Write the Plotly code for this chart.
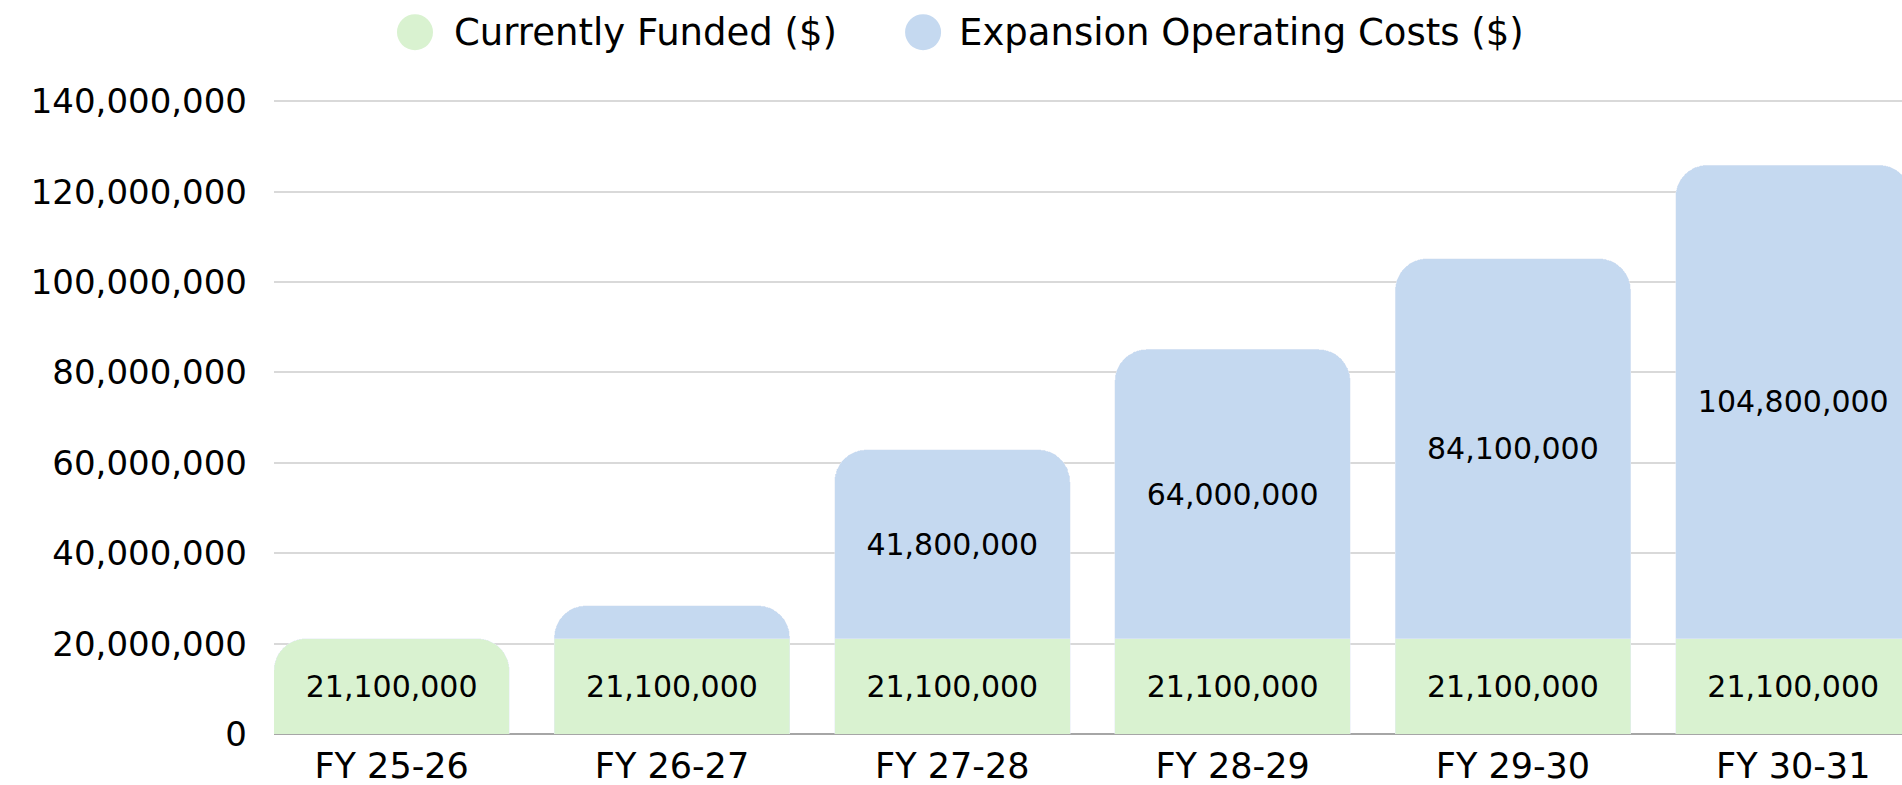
import plotly.graph_objects as go

categories = ["FY 25-26", "FY 26-27", "FY 27-28", "FY 28-29", "FY 29-30", "FY 30-31"]
funded = [21_100_000, 21_100_000, 21_100_000, 21_100_000, 21_100_000, 21_100_000]
expansion = [None, 7_300_000, 41_800_000, 64_000_000, 84_100_000, 104_800_000]
y_ticks = [0, 20_000_000, 40_000_000, 60_000_000, 80_000_000, 100_000_000, 120_000_000, 140_000_000]

series_names = ["Currently Funded ($)", "Expansion Operating Costs ($)"]
GREEN = "#d9f2d0"
BLUE = "#c5d9f0"
FONT = "DejaVu Sans"
FS_BAR = 30
FS_AXIS = 34
FS_LEG = 37


def labels(vals, minimum=10_000_000):
    return [f"{v:,}" if (v is not None and v >= minimum) else "" for v in vals]


fig = go.Figure()
fig.add_trace(go.Bar(
    x=categories, y=funded, name=series_names[0], marker_color=GREEN,
    text=labels(funded), texttemplate="%{text}", textposition="inside",
    insidetextanchor="middle", textangle=0, constraintext="none",
    textfont=dict(family=FONT, size=FS_BAR, color="#000000"), showlegend=False,
))
fig.add_trace(go.Bar(
    x=categories, y=expansion, name=series_names[1], marker_color=BLUE,
    text=labels(expansion), texttemplate="%{text}", textposition="inside",
    insidetextanchor="middle", textangle=0, constraintext="none",
    textfont=dict(family=FONT, size=FS_BAR, color="#000000"), showlegend=False,
))

# custom legend (circle markers)
legend_items = [
    (0.0866, 0.1096, series_names[0], GREEN),
    (0.3987, 0.4195, series_names[1], BLUE),
]
for cx, tx, name, col in legend_items:
    fig.add_shape(type="circle", xref="paper", yref="paper",
                  xsizemode="pixel", ysizemode="pixel",
                  xanchor=cx, yanchor=1.107,
                  x0=-18, x1=18, y0=-18, y1=18,
                  fillcolor=col, line=dict(width=0))
    fig.add_annotation(x=tx, y=1.107, xref="paper", yref="paper",
                       text=name, showarrow=False, xanchor="left", yanchor="middle",
                       font=dict(family=FONT, size=FS_LEG, color="#000000"))

fig.update_layout(
    barmode="stack",
    bargap=0.16,
    barcornerradius=32,
    width=1902, height=785,
    margin=dict(l=274, r=0, t=99.5, b=51),
    plot_bgcolor="#ffffff",
    paper_bgcolor="#ffffff",
    font=dict(family=FONT, size=FS_AXIS, color="#000000"),
    showlegend=False,
)
fig.update_xaxes(
    range=[-0.41975, 5.388], showgrid=False, ticks="", showline=False,
    ticklabelstandoff=8,
    tickfont=dict(family=FONT, size=FS_AXIS + 1, color="#000000"),
)
fig.update_yaxes(
    range=[0, 140_300_000], tickvals=y_ticks,
    ticktext=[f"{v:,}" for v in y_ticks],
    showgrid=True, gridcolor="#d9d9d9", gridwidth=1.5,
    zeroline=True, zerolinecolor="#a6a6a6", zerolinewidth=1.5,
    ticks="", showline=False, ticklabelstandoff=26,
    tickfont=dict(family=FONT, size=FS_AXIS, color="#000000"),
)

fig.write_html(
    "out.html",
    config={"displayModeBar": False},
    post_script="document.body.style.margin='0';document.body.style.overflow='hidden';",
)
